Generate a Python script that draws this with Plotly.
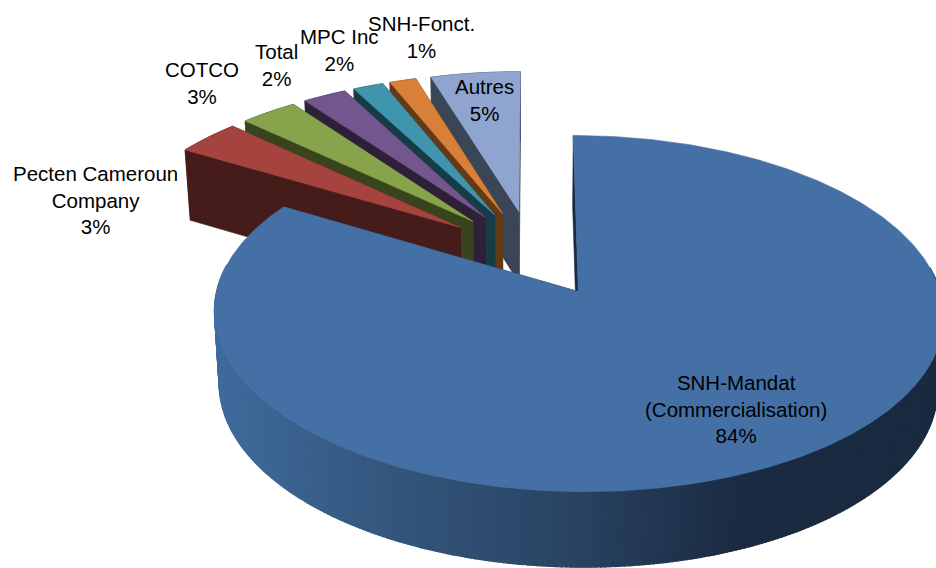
import math
import plotly.graph_objects as go

# ---- data ----
names = ["SNH-Mandat<br>(Commercialisation)", "Pecten Cameroun<br>Company", "COTCO", "Total",
         "MPC Inc", "SNH-Fonct.", "Autres"]
values = [83.6, 3.4, 3.0, 2.3, 1.6, 1.4, 4.7]
top_colors = ["#4470a6", "#a5433f", "#87a34b", "#72568d", "#4095ae", "#d87f38", "#8fa5cf"]
wall_colors = ["#1a2a40", "#451c19", "#38441c", "#2d2038", "#173c47", "#633a16", "#3b4558"]
label_x = [736, 95, 202, 276, 339, 421, 484]
label_y = [409, 200, 83, 65, 50, 37, 100]

# ---- projection / style parameters (pixel space of the 936x568 page) ----
CX, CY, SX, SY, K = 532.0, 253.0, 352.0, 166.0, 0.12
EXPLODE = 0.26
WALL_H, WALL_P, WALL_XS = 72.0, 0.3, 0.985
GRAD = [(215, (0x3f, 0x6b, 0x9c)), (400, (0x33, 0x55, 0x7b)), (560, (0x2a, 0x45, 0x65)),
        (750, (0x1a, 0x2a, 0x40)), (936, (0x1a, 0x2a, 0x40))]


def proj(X, Y, z=0.0):
    s = 1.0 / (1.0 + K * Y)
    x = CX + SX * X * s
    y = CY - SY * Y * s
    if z:
        x = CX + (x - CX) * WALL_XS
        y = y + z * WALL_H * s ** WALL_P
    return x, y


def grad_color(x):
    if x <= GRAD[0][0]:
        c = GRAD[0][1]
    else:
        c = GRAD[-1][1]
        for (a, ca), (b, cb) in zip(GRAD, GRAD[1:]):
            if a <= x <= b:
                t = (x - a) / (b - a)
                c = tuple(ca[i] + t * (cb[i] - ca[i]) for i in range(3))
                break
    return "rgb(%d,%d,%d)" % tuple(round(v) for v in c)


def poly(fig, pts, color, width=0.6):
    xs = [p[0] for p in pts] + [pts[0][0]]
    ys = [p[1] for p in pts] + [pts[0][1]]
    fig.add_trace(go.Scatter(x=xs, y=ys, mode="lines", fill="toself", fillcolor=color,
                             line=dict(color=color, width=width), hoverinfo="skip", showlegend=False))


total = sum(values)
slices = []
start = 0.0
for i, v in enumerate(values):
    a0 = start
    a1 = start + v / total * 2 * math.pi
    start = a1
    mid = (a0 + a1) / 2
    slices.append((i, a0, a1, EXPLODE * math.sin(mid), EXPLODE * math.cos(mid)))

fig = go.Figure()
# painter's order: farthest apex first
for i, a0, a1, ox, oy in sorted(slices, key=lambda s: -s[4]):
    n = max(4, int((a1 - a0) / 0.012))
    angs = [a0 + (a1 - a0) * j / n for j in range(n + 1)]
    rim = [(ox + math.sin(a), oy + math.cos(a)) for a in angs]
    wall = wall_colors[i]
    # radial faces
    for (ex, ey) in (rim[0], rim[-1]):
        poly(fig, [proj(ox, oy), proj(ex, ey), proj(ex, ey, 1), proj(ox, oy, 1)], wall)
    # outer face (only the part facing the viewer can be seen)
    for a, p, q in zip(angs, rim, rim[1:]):
        if i == 0 and math.cos(a) > 0.15:
            continue
        col = grad_color(proj(*p)[0]) if i == 0 else wall
        poly(fig, [proj(*p), proj(*q), proj(*q, 1), proj(*p, 1)], col, 1.2 if i == 0 else 0.6)
    # top face
    poly(fig, [proj(ox, oy)] + [proj(*p) for p in rim], top_colors[i])

for nm, v, lx, ly in zip(names, values, label_x, label_y):
    fig.add_annotation(x=lx, y=ly, xref="x", yref="y", text=f"{nm}<br>{round(v)}%", showarrow=False,
                       font=dict(family="Liberation Sans, Arial, sans-serif", size=20.5, color="#000000"),
                       align="center", xanchor="center", yanchor="middle")

fig.update_layout(
    width=936, height=568, margin=dict(l=0, r=0, t=0, b=0),
    paper_bgcolor="white", plot_bgcolor="white", showlegend=False,
    xaxis=dict(range=[0, 936], visible=False, fixedrange=True),
    yaxis=dict(range=[568, 0], visible=False, fixedrange=True),
)
fig.write_html("out.html", config={"displayModeBar": False},
               post_script="document.body.style.margin='0';document.body.style.overflow='hidden';")
